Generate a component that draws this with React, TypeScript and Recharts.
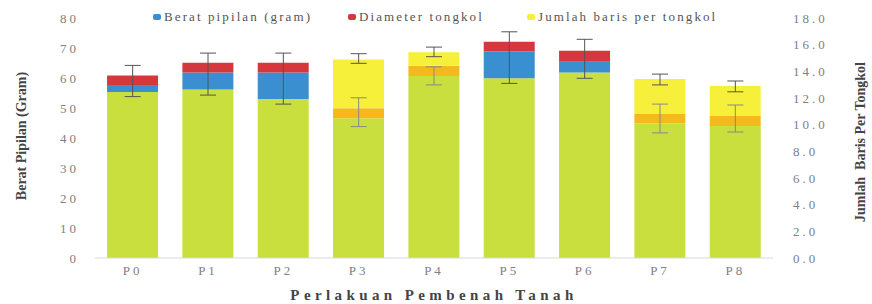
import { ComposedChart, Bar, Line, XAxis, YAxis, ErrorBar } from 'recharts'

const categories = ['P0', 'P1', 'P2', 'P3', 'P4', 'P5', 'P6', 'P7', 'P8']

// segment heights, read in left-axis units (gram)
const greenBase = [55.3, 56.2, 53.0, 46.6, 60.7, 59.9, 61.8, 44.9, 44.0]
const orangePart = [0, 0, 0, 3.3, 3.4, 0, 0, 3.3, 3.3]
const beratPipilan = [2.4, 5.6, 8.8, 0, 0, 8.9, 3.6, 0, 0]
const diameterTongkol = [3.1, 3.3, 3.3, 0, 0, 3.3, 3.7, 0, 0]
const jumlahBaris = [0, 0, 0, 16.3, 4.5, 0, 0, 11.5, 10.0]

// error bars: centre and half length
const errUpperMid = [59.0, 61.3, 59.8, 66.5, 68.7, 66.8, 66.4, 59.5, 57.2]
const errUpperHalf = [5.2, 7.0, 8.5, 1.6, 1.6, 8.6, 6.5, 1.8, 1.8]
const errLowerMid = [null, null, null, 48.6, 60.7, null, null, 46.5, 46.5]
const errLowerHalf = [null, null, null, 4.8, 3.0, null, null, 4.8, 4.5]

const leftTicks = [0, 10, 20, 30, 40, 50, 60, 70, 80]
const rightTicks = [0, 2, 4, 6, 8, 10, 12, 14, 16, 18]

const data = categories.map((name, i) => ({
  name,
  green: greenBase[i],
  orange: orangePart[i],
  blue: beratPipilan[i],
  red: diameterTongkol[i],
  yellow: jumlahBaris[i],
  e1: errUpperMid[i],
  e1h: errUpperHalf[i],
  e2: errLowerMid[i],
  e2h: errLowerHalf[i],
}))

const FONT = '"Liberation Serif", "DejaVu Serif", serif'
const TICK = { fontFamily: FONT, fontSize: 13, fill: '#808080', letterSpacing: 3 }

const legendItems = [
  { label: 'Berat pipilan (gram)', color: '#3a8fd0', left: 153 },
  { label: 'Diameter tongkol', color: '#d4383c', left: 348 },
  { label: 'Jumlah baris per tongkol', color: '#f7f03a', left: 527 },
]

function SideTitle({ text, cx, cy }: { text: string; cx: number; cy: number }) {
  return (
    <div
      style={{
        position: 'absolute',
        left: cx,
        top: cy,
        transform: 'translate(-50%, -50%) rotate(-90deg)',
        fontFamily: FONT,
        fontSize: 14,
        fontWeight: 'bold',
        color: '#444',
        whiteSpace: 'pre',
        lineHeight: 1,
      }}
    >
      {text}
    </div>
  )
}

export default function App() {
  return (
    <div style={{ position: 'absolute', left: 0, top: 0, width: 872, height: 304, background: '#fff' }}>
      <ComposedChart
        width={872}
        height={304}
        data={data}
        margin={{ top: 18, right: 0, left: 0, bottom: 0 }}
        barCategoryGap="16%"
      >
        <XAxis
          dataKey="name"
          height={46}
          tick={TICK}
          tickLine={false}
          tickSize={0}
          tickMargin={8}
          axisLine={{ stroke: '#d9d9d9' }}
          label={{
            value: 'Perlakuan Pembenah Tanah',
            position: 'insideBottom',
            offset: 4,
            style: { fontFamily: FONT, fontSize: 15, fontWeight: 'bold', fill: '#444', letterSpacing: 4.4 },
          }}
        />
        <YAxis
          yAxisId="left"
          width={95}
          domain={[0, 80]}
          ticks={leftTicks}
          tick={TICK}
          tickLine={false}
          tickSize={0}
          tickMargin={16}
          axisLine={false}
        />
        <YAxis
          yAxisId="right"
          orientation="right"
          width={99}
          domain={[0, 18]}
          ticks={rightTicks}
          tickFormatter={(v: number) => v.toFixed(1)}
          tick={TICK}
          tickLine={false}
          tickSize={0}
          tickMargin={20}
          axisLine={false}
        />
        <Bar yAxisId="left" dataKey="green" stackId="a" fill="#c8df3e" isAnimationActive={false} />
        <Bar yAxisId="left" dataKey="orange" stackId="a" fill="#f5b91e" isAnimationActive={false} />
        <Bar yAxisId="left" dataKey="blue" stackId="a" fill="#3a8fd0" isAnimationActive={false} />
        <Bar yAxisId="left" dataKey="red" stackId="a" fill="#d4383c" isAnimationActive={false} />
        <Bar yAxisId="left" dataKey="yellow" stackId="a" fill="#f7f03a" isAnimationActive={false} />
        {/* invisible series so the right axis is drawn */}
        <Line yAxisId="right" dataKey="yellow" stroke="none" dot={false} activeDot={false} legendType="none" isAnimationActive={false} />
        <Line yAxisId="left" dataKey="e1" stroke="none" dot={false} activeDot={false} legendType="none" isAnimationActive={false}>
          <ErrorBar dataKey="e1h" direction="y" width={8} stroke="#555" strokeWidth={1} />
        </Line>
        <Line yAxisId="left" dataKey="e2" stroke="none" dot={false} activeDot={false} legendType="none" isAnimationActive={false}>
          <ErrorBar dataKey="e2h" direction="y" width={8} stroke="#888" strokeWidth={1} />
        </Line>
      </ComposedChart>

      <SideTitle text="Berat Pipilan (Gram)" cx={22} cy={136} />
      <SideTitle text="Jumlah  Baris Per Tongkol" cx={861} cy={142} />

      {/* legend */}
      {legendItems.map((item) => (
        <div
          key={item.label}
          style={{
            position: 'absolute',
            left: item.left,
            top: 9,
            display: 'flex',
            alignItems: 'center',
            gap: 3,
            fontFamily: FONT,
            fontSize: 13,
            color: '#555',
            whiteSpace: 'nowrap',
          }}
        >
          <span style={{ width: 8, height: 6, background: item.color, borderRadius: 2, display: 'inline-block' }} />
          <span style={{ letterSpacing: 2.1 }}>{item.label}</span>
        </div>
      ))}
    </div>
  )
}
